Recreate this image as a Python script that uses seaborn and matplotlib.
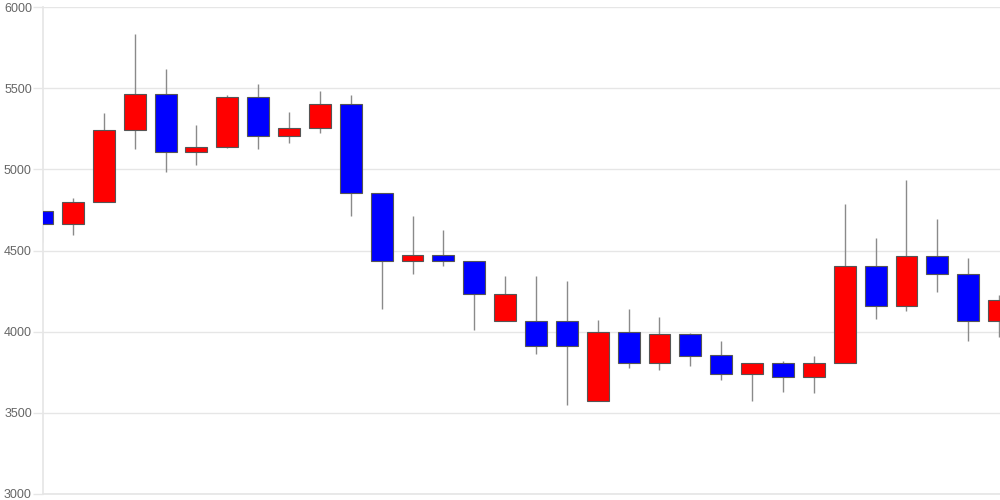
import numpy as np
import pandas as pd
import matplotlib
matplotlib.use('Agg')
import matplotlib.pyplot as plt
import seaborn as sns

# daily OHLC values (left to right)
opens = [4745, 4665, 4800, 5245, 5465, 5105, 5135, 5445, 5205, 5255,
         5405, 4855, 4435, 4475, 4435, 4065, 4065, 4065, 3570, 3995,
         3810, 3985, 3855, 3740, 3805, 3720, 3805, 4405, 4160, 4465,
         4355, 4065]
highs = [4805, 4822, 5345, 5835, 5615, 5275, 5455, 5525, 5355, 5485,
         5455, 4855, 4715, 4625, 4435, 4345, 4345, 4310, 4070, 4140,
         4090, 3990, 3940, 3810, 3820, 3850, 4785, 4575, 4935, 4695,
         4455, 4225]
lows = [4552, 4594, 4800, 5125, 4985, 5025, 5130, 5125, 5165, 5225,
        4715, 4140, 4355, 4405, 4010, 4065, 3865, 3550, 3570, 3775,
        3765, 3790, 3700, 3570, 3630, 3620, 3805, 4075, 4125, 4245,
        3945, 3970]
closes = [4665, 4800, 5245, 5465, 5105, 5135, 5445, 5205, 5255, 5405,
          4855, 4435, 4475, 4435, 4235, 4235, 3910, 3910, 3995, 3810,
          3985, 3850, 3740, 3805, 3720, 3805, 4405, 4160, 4465, 4355,
          4065, 4195]
y_ticks = [3000, 3500, 4000, 4500, 5000, 5500, 6000]

df = pd.DataFrame({'open': opens, 'high': highs, 'low': lows, 'close': closes})
df['i'] = np.arange(len(df))
df['up'] = df.close >= df.open
df['body_lo'] = df[['open', 'close']].min(axis=1)
df['body_h'] = (df.close - df.open).abs()

sns.set_theme(style='whitegrid')
plt.rcParams['font.family'] = ['Liberation Sans', 'DejaVu Sans']

fig = plt.figure(figsize=(10, 5), dpi=100)
ax = fig.add_axes([0.043, 0.012, 0.957, 0.974])

# wicks first so the bodies sit on top
ax.vlines(df.i, df.low, df.high, color='#8a8a8a', linewidth=1, zorder=2)
colors = np.where(df.up, '#ff0000', '#0000ff')
ax.bar(df.i, df.body_h, bottom=df.body_lo, width=0.71, color=colors,
       edgecolor='#555555', linewidth=0.8, zorder=3)

ax.set_xlim(0.03, 31.03)
ax.set_ylim(3000, 6000)
ax.set_yticks(y_ticks)
ax.set_xticks([])
ax.grid(axis='x', visible=False)
ax.grid(axis='y', color='#e6e6e6', linewidth=1)
ax.tick_params(axis='y', length=7, width=1, color='#e6e6e6', pad=1,
               labelsize=9, labelcolor='#666666', left=True)
for s in ['top', 'right']:
    ax.spines[s].set_visible(False)
ax.spines['left'].set_color('#e6e6e6')
ax.spines['bottom'].set_color('#e6e6e6')
ax.set_xlabel('')
ax.set_ylabel('')

fig.savefig('out.png', dpi=100)
